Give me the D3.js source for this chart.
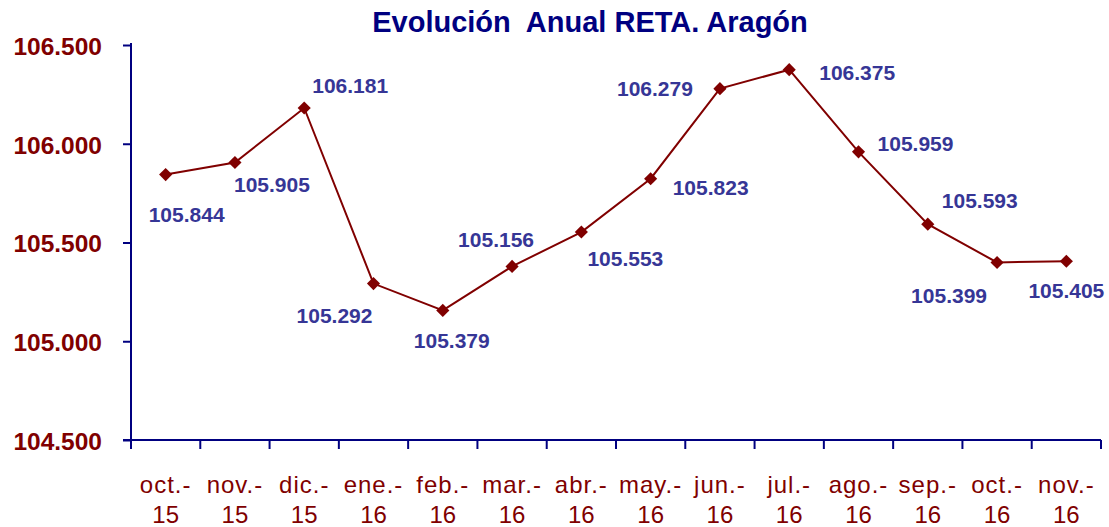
<!DOCTYPE html>
<html>
<head>
<meta charset="utf-8">
<script src="https://cdn.jsdelivr.net/npm/d3@7"></script>
<style>
  html, body { margin: 0; padding: 0; background: #fff; }
  svg { display: block; font-family: Arial, "Liberation Sans", sans-serif; }
</style>
</head>
<body>
<svg id="chart" width="1109" height="527"></svg>
<script>
// ---- data ----
const months = ["oct.-", "nov.-", "dic.-", "ene.-", "feb.-", "mar.-", "abr.-", "may.-", "jun.-", "jul.-", "ago.-", "sep.-", "oct.-", "nov.-"];
const years  = ["15", "15", "15", "16", "16", "16", "16", "16", "16", "16", "16", "16", "16", "16"];
const values = [105.844, 105.905, 106.181, 105.292, 105.156, 105.379, 105.553, 105.823, 106.279, 106.375, 105.959, 105.593, 105.399, 105.405];
const labelTexts = ["105.844", "105.905", "106.181", "105.292", "105.379", "105.156", "105.553", "105.823", "106.279", "106.375", "105.959", "105.593", "105.399", "105.405"];
const yTicks = [104.5, 105.0, 105.5, 106.0, 106.5];
const title = "Evolución  Anual RETA. Aragón";

// label placement offsets (layout only)
const labelDx = [21, 37, 46, -39, 9, -16, 44, 60, -65, 68, 57, 52, -48, 0];
const labelDy = [40, 22, -23, 32, 30, -27, 26, 9, 0, 3, -8, -24, 33, 29];

const svg = d3.select("#chart");
const mLeft = 131, mRight = 1101, mTop = 45, mBottom = 440;

const x = d3.scaleBand().domain(d3.range(months.length)).range([mLeft, mRight]).padding(0);
const y = d3.scaleLinear().domain([104.5, 106.5]).range([mBottom, mTop]);

const axisColor = "#000080";
const red = "#800000";
const labelBlue = "#363696";

// title
svg.append("text")
  .attr("x", 590).attr("y", 32)
  .attr("text-anchor", "middle")
  .attr("font-size", 29).attr("font-weight", "bold")
  .attr("fill", axisColor)
  .style("white-space", "pre")
  .text(title);

// y axis
const yAxis = svg.append("g").attr("transform", `translate(${mLeft},0)`)
  .call(d3.axisLeft(y).tickValues(yTicks).tickFormat(d3.format(".3f")).tickSize(8).tickPadding(21));
yAxis.select(".domain").attr("stroke", axisColor).attr("stroke-width", 2).attr("d", `M0,${mTop - 2}V${mBottom}`);
yAxis.selectAll(".tick line").attr("stroke", axisColor).attr("stroke-width", 2);
yAxis.selectAll(".tick text")
  .attr("fill", red).attr("font-size", 24.5).attr("font-weight", "bold")
  .attr("font-family", "Arial, 'Liberation Sans', sans-serif")
  .attr("dy", "0.38em");

// x axis
const xAxisG = svg.append("g").attr("transform", `translate(0,${mBottom})`);
xAxisG.append("line").attr("x1", mLeft - 8).attr("x2", mRight).attr("y1", 0).attr("y2", 0)
  .attr("stroke", axisColor).attr("stroke-width", 2);
const boundaries = d3.range(months.length + 1).map(i => mLeft + i * x.bandwidth());
xAxisG.selectAll("line.tk").data(boundaries).join("line").attr("class", "tk")
  .attr("x1", d => d).attr("x2", d => d).attr("y1", 0).attr("y2", 9)
  .attr("stroke", axisColor).attr("stroke-width", 2);

const xl = svg.append("g");
months.forEach((m, i) => {
  const cx = x(i) + x.bandwidth() / 2;
  const t = xl.append("text").attr("text-anchor", "middle").attr("fill", red)
    .attr("font-size", 24);
  t.append("tspan").attr("x", cx).attr("y", 493).attr("letter-spacing", 1).text(m);
  t.append("tspan").attr("x", cx).attr("y", 523).text(years[i]);
});

// line
const line = d3.line().x((d, i) => x(i) + x.bandwidth() / 2).y(d => y(d));
svg.append("path").datum(values)
  .attr("d", line).attr("fill", "none").attr("stroke", red).attr("stroke-width", 2);

// markers
svg.selectAll("path.pt").data(values).join("path").attr("class", "pt")
  .attr("d", d3.symbol().type(d3.symbolDiamond2).size(110))
  .attr("transform", (d, i) => `translate(${x(i) + x.bandwidth() / 2},${y(d)})`)
  .attr("fill", red);

// data labels
svg.selectAll("text.lbl").data(values).join("text").attr("class", "lbl")
  .attr("x", (d, i) => x(i) + x.bandwidth() / 2 + labelDx[i])
  .attr("y", (d, i) => y(d) + labelDy[i])
  .attr("dy", "0.36em")
  .attr("text-anchor", "middle")
  .attr("font-size", 21).attr("font-weight", "bold")
  .attr("fill", labelBlue)
  .text((d, i) => labelTexts[i]);
</script>
</body>
</html>
